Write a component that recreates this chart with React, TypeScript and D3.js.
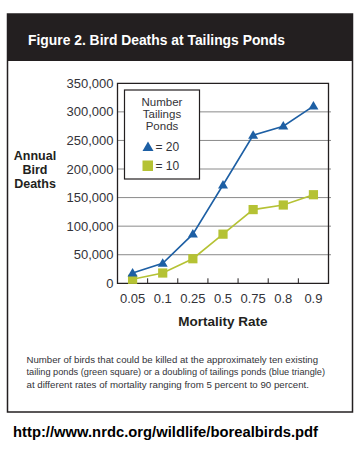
import React from "react";
import * as d3 from "d3";

const categories = ["0.05", "0.1", "0.25", "0.5", "0.75", "0.8", "0.9"];
const ponds20 = [18000, 35000, 86000, 172000, 259000, 275000, 310000];
const ponds10 = [7000, 18000, 43000, 86000, 129000, 137000, 155000];
const yTicks = [0, 50000, 100000, 150000, 200000, 250000, 300000, 350000];
const captionLines = [
  "Number of birds that could be killed at the approximately ten existing",
  "tailing ponds (green square) or a doubling of tailings ponds (blue triangle)",
  "at different rates of mortality ranging from 5 percent to 90 percent.",
];
const captionWidths = [291.5, 298.5, 282.5];

const BLUE = "#1d5fa4";
const GREEN = "#b5c234";
const TEXT = "#333338";
const FONT = "'Liberation Sans', Arial, sans-serif";

export default function App() {
  const left = 117.5, right = 328.5, top = 83.3, bottom = 283.3;
  const x = d3.scaleBand<string>().domain(categories).range([left, right]);
  const y = d3.scaleLinear().domain([0, 350000]).range([bottom, top]);
  const cx = (c: string) => (x(c) as number) + x.bandwidth() / 2;
  const line = d3
    .line<number>()
    .x((_, i) => cx(categories[i]))
    .y((d) => y(d));
  const tri = (px: number, py: number, s = 10) => {
    const h = s * 0.85;
    return `M${px},${py - h * 0.6}L${px + s / 2},${py + h * 0.4}L${px - s / 2},${py + h * 0.4}Z`;
  };

  return (
    <svg
      width={364}
      height={450}
      style={{ position: "absolute", left: 0, top: 0, background: "#fff" }}
      fontFamily={FONT}
    >
      {/* frame */}
      <rect x={7.5} y={14} width={345} height={398} fill="#fff" stroke="#231f20" strokeWidth={1.5} />
      <rect x={7} y={14} width={346} height={47} fill="#231f20" />
      <text x={28} y={45} fill="#fff" fontSize={15.5} fontWeight="bold" textLength={257} lengthAdjust="spacingAndGlyphs">
        Figure 2. Bird Deaths at Tailings Ponds
      </text>

      {/* gridlines */}
      {yTicks.slice(1, -1).map((t) => (
        <line key={t} x1={left} x2={right + 2.5} y1={y(t)} y2={y(t)} stroke="#8a8a8a" strokeWidth={1} />
      ))}
      {/* frame of plot */}
      <path
        d={`M${left},${top}H${right}V${bottom}H${left}Z`}
        fill="none"
        stroke="#231f20"
        strokeWidth={1.3}
      />
      {/* x ticks */}
      {categories.slice(1).map((c) => (
        <line key={c} x1={x(c)} x2={x(c)} y1={bottom} y2={bottom - 5} stroke="#231f20" strokeWidth={1} />
      ))}
      {/* y tick labels */}
      {yTicks.map((t) => (
        <text key={t} x={113.5} y={y(t) + 4.5} textAnchor="end" fontSize={13} fill={TEXT}>
          {d3.format(",")(t)}
        </text>
      ))}
      {/* x tick labels */}
      {categories.map((c) => (
        <text key={c} x={cx(c)} y={302.5} textAnchor="middle" fontSize={13} fill={TEXT}>
          {c}
        </text>
      ))}
      {/* axis titles */}
      <g fontWeight="bold" fontSize={12.5} fill="#231f20" textAnchor="middle">
        <text x={35} y={160}>Annual</text>
        <text x={35} y={174}>Bird</text>
        <text x={35} y={188.3}>Deaths</text>
        <text x={223} y={326} fontSize={13.5}>Mortality Rate</text>
      </g>

      {/* lines */}
      <path d={line(ponds10) || ""} fill="none" stroke={GREEN} strokeWidth={1.6} />
      <path d={line(ponds20) || ""} fill="none" stroke={BLUE} strokeWidth={1.6} />
      {ponds10.map((v, i) => (
        <rect key={i} x={cx(categories[i]) - 4.6} y={y(v) - 4.6} width={9.2} height={9.2} fill={GREEN} />
      ))}
      {ponds20.map((v, i) => (
        <path key={i} d={tri(cx(categories[i]), y(v))} fill={BLUE} />
      ))}

      {/* legend */}
      <rect x={124.5} y={90} width={75} height={89} fill="#fff" stroke="#231f20" strokeWidth={1.2} />
      <g fontSize={11.5} fill={TEXT} textAnchor="middle">
        <text x={162} y={106}>Number</text>
        <text x={162} y={117.5}>Tailings</text>
        <text x={162} y={129.5}>Ponds</text>
      </g>
      <path d={`M148,141.5L153.5,151L142.5,151Z`} fill={BLUE} />
      <text x={155.5} y={150.5} fontSize={12} fill={TEXT}>= 20</text>
      <rect x={142.5} y={160.5} width={10.5} height={10.5} fill={GREEN} />
      <text x={155.5} y={170} fontSize={12} fill={TEXT}>= 10</text>

      {/* caption */}
      <g fontSize={9.4} fill={TEXT}>
        {captionLines.map((l, i) => (
          <text key={i} x={26.5} y={363 + i * 12.4} textLength={captionWidths[i]} lengthAdjust="spacingAndGlyphs">
            {l}
          </text>
        ))}
      </g>
      <text x={13} y={437} fontSize={14.8} fontWeight="bold" fill="#000" textLength={305} lengthAdjust="spacingAndGlyphs">
        http://www.nrdc.org/wildlife/borealbirds.pdf
      </text>
    </svg>
  );
}
